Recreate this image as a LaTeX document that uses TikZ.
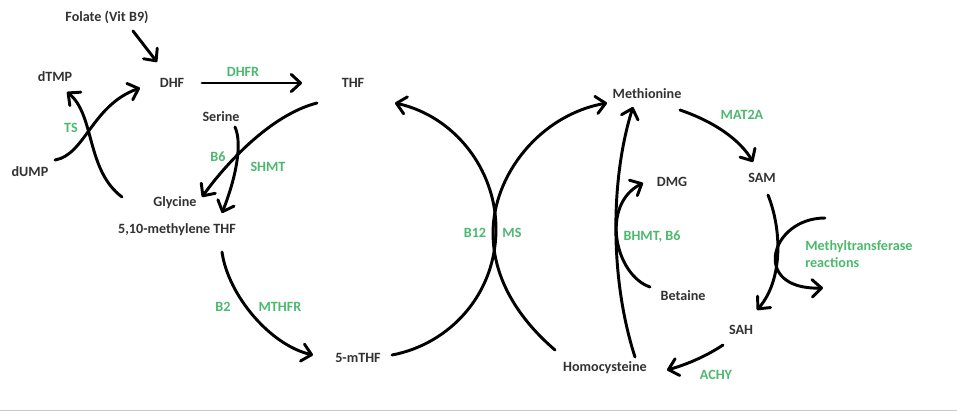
\documentclass[tikz,border=0pt]{standalone}
\usepackage{fontspec}
\setmainfont{Carlito}
\usetikzlibrary{arrows.meta,calc}
\definecolor{txt}{RGB}{50,50,50}
\definecolor{enz}{RGB}{76,185,110}
\begin{document}
\begin{tikzpicture}[x=0.75pt,y=-0.75pt,
  lbl/.style={inner sep=0pt,text=txt,font=\fontsize{10.6}{11}\selectfont\bfseries},
  enzlbl/.style={inner sep=0pt,text=enz,font=\fontsize{10.6}{11}\selectfont\bfseries},
  flow/.style={line width=2.2pt,line cap=round,line join=round,
    -{Straight Barb[length=7pt,width=13pt,line join=round,line cap=round]}}]
\useasboundingbox (0,0) rectangle (957,412);
\fill[white] (0,0) rectangle (957,412);
\draw[line width=1.2pt,color={rgb,255:red,200;green,200;blue,200}] (0,410.5) -- (957,410.5);
% nodes
\node[lbl] (folate) at (107,17) {Folate (Vit B9)};
\node[lbl] (dhf) at (172,83) {DHF};
\node[lbl] (dtmp) at (55,77) {dTMP};
\node[lbl] (dump) at (30,172) {dUMP};
\node[enzlbl] (ts) at (71,128) {TS};
\node[enzlbl] (dhfr) at (243,72) {DHFR};
\node[lbl] (thf) at (353,83) {THF};
\node[lbl] (serine) at (221,117) {Serine};
\node[enzlbl] (b6a) at (218,157) {B6};
\node[enzlbl] (shmt) at (268,167) {SHMT};
\node[lbl] (glycine) at (175,203) {Glycine};
\node[lbl] (mthfa) at (177,230) {5,10-methylene THF};
\node[enzlbl] (b2) at (223,307) {B2};
\node[enzlbl] (mthfr) at (280,307) {MTHFR};
\node[lbl] (mthfb) at (358,358) {5-mTHF};
\node[enzlbl] (b12) at (475,233) {B12};
\node[enzlbl] (ms) at (512,233) {MS};
\node[lbl] (met) at (647,94) {Methionine};
\node[lbl] (hcy) at (605,368) {Homocysteine};
\node[lbl] (dmg) at (672,182) {DMG};
\node[lbl] (betaine) at (683,296) {Betaine};
\node[enzlbl] (bhmt) at (652,237) {BHMT, B6};
\node[lbl] (sam) at (762,178) {SAM};
\node[enzlbl] (mat) at (742,115) {MAT2A};
\node[enzlbl,anchor=west,align=left] (mt) at (805,254) {Methyltransferase\\[2pt]reactions};
\node[lbl] (sah) at (741,330) {SAH};
\node[enzlbl] (achy) at (716,375) {ACHY};
% connectors
\draw[flow] ($(folate)+(26,14)$) -- ($(dhf)+(-15,-21)$);
\draw[flow] ($(dhf)+(30,0)$) -- ($(thf)+(-51,0)$);
\draw[flow] ($(dump)+(25,-12)$) .. controls (85,155) and (92,105) .. ($(dhf)+(-32,5)$);
\draw[flow] ($(mthfa)+(-55,-33)$) .. controls (86,170) and (95,115) .. ($(dtmp)+(12,15)$);
\draw[flow] ($(thf)+(-36,20)$) .. controls (270,115) and (225,165) .. ($(glycine)+(27,-6)$);
\draw[flow] ($(serine)+(14,10)$) .. controls (243,145) and (235,180) .. ($(mthfa)+(45,-17)$);
\draw[flow] ($(mthfa)+(45,22)$) .. controls (228,295) and (270,345) .. ($(mthfb)+(-45,-3)$);
\draw[flow] ($(mthfb)+(34,-3)$) .. controls (450,344) and (496,294) .. (496,229)
  .. controls (496,169) and (454,116) .. ($(thf)+(42,20)$);
\draw[flow] ($(hcy)+(-50,-18)$) .. controls (520,320) and (493,280) .. (493,233)
  .. controls (493,175) and (540,115) .. ($(met)+(-40,9)$);
\draw[flow] ($(hcy)+(30,-11)$) .. controls (610,280) and (610,180) .. ($(met)+(-14,13)$);
\draw[flow] ($(betaine)+(-33,-9)$) .. controls (615,275) and (600,205) .. ($(dmg)+(-29,1)$);
\draw[flow] ($(met)+(33,16)$) .. controls (715,122) and (740,140) .. ($(sam)+(-9,-16)$);
\draw[flow] ($(sam)+(6,17)$) .. controls (782,230) and (783,280) .. ($(sah)+(16,-20)$);
\draw[flow] ($(mt.west)+(20,-36)$) .. controls (770,218) and (750,290) .. ($(mt.west)+(18,34)$);
\draw[flow] ($(sah)+(-18,15)$) .. controls (705,357) and (685,365) .. ($(hcy)+(62,2)$);
\end{tikzpicture}
\end{document}
